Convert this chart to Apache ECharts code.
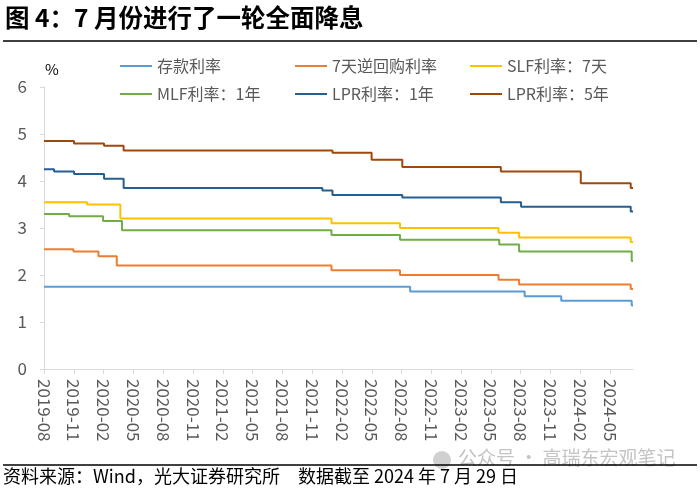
<!DOCTYPE html>
<html>
<head>
<meta charset="utf-8">
<script src="https://cdn.jsdelivr.net/npm/echarts@6/dist/echarts.min.js"></script>
<style>html,body{margin:0;padding:0;background:#fff}#c{width:700px;height:490px}</style>
</head>
<body>
<div id="c"></div>
<script>
// ---- data (change dates and rates, %) ----
const seriesNames = ['存款利率', '7天逆回购利率', 'SLF利率：7天', 'MLF利率：1年', 'LPR利率：1年', 'LPR利率：5年'];
const depositDates = ['2019-08-20','2022-09-15','2023-09-01','2023-12-22','2024-07-25','2024-07-29'];
const depositRates = [1.75, 1.65, 1.55, 1.45, 1.35, 1.35];
const repoDates = ['2019-08-20','2019-11-18','2020-02-03','2020-03-30','2022-01-17','2022-08-15','2023-06-13','2023-08-15','2024-07-22','2024-07-29'];
const repoRates = [2.55, 2.50, 2.40, 2.20, 2.10, 2.00, 1.90, 1.80, 1.70, 1.70];
const slfDates = ['2019-08-20','2019-12-30','2020-04-10','2022-01-17','2022-08-15','2023-06-13','2023-08-15','2024-07-22','2024-07-29'];
const slfRates = [3.55, 3.50, 3.20, 3.10, 3.00, 2.90, 2.80, 2.70, 2.70];
const mlfDates = ['2019-08-20','2019-11-05','2020-02-17','2020-04-15','2022-01-17','2022-08-15','2023-06-15','2023-08-15','2024-07-25','2024-07-29'];
const mlfRates = [3.30, 3.25, 3.15, 2.95, 2.85, 2.75, 2.65, 2.50, 2.30, 2.30];
const lpr1Dates = ['2019-08-20','2019-09-20','2019-11-20','2020-02-20','2020-04-20','2021-12-20','2022-01-20','2022-08-22','2023-06-20','2023-08-21','2024-07-22','2024-07-29'];
const lpr1Rates = [4.25, 4.20, 4.15, 4.05, 3.85, 3.80, 3.70, 3.65, 3.55, 3.45, 3.35, 3.35];
const lpr5Dates = ['2019-08-20','2019-11-20','2020-02-20','2020-04-20','2022-01-20','2022-05-20','2022-08-22','2023-06-20','2024-02-20','2024-07-22','2024-07-29'];
const lpr5Rates = [4.85, 4.80, 4.75, 4.65, 4.60, 4.45, 4.30, 4.20, 3.95, 3.85, 3.85];
const startDate = '2019-08-20';
const endDate = '2024-07-29';
const yTicks = [0, 1, 2, 3, 4, 5, 6];

// ---- helpers ----
const DAY = 86400000, MONTH_DAYS = 365.25 / 12;
const t0 = Date.parse(startDate + 'T00:00:00Z');
function toIdx(d) { return (Date.parse(d + 'T00:00:00Z') - t0) / DAY / MONTH_DAYS; }
function idxLabel(v) {
  if (Math.abs(v / 3 - Math.round(v / 3)) > 1e-6) return '';
  const dt = new Date(t0 + v * MONTH_DAYS * DAY);
  const m = dt.getUTCMonth() + 1;
  return dt.getUTCFullYear() + '-' + (m < 10 ? '0' + m : m);
}
function pts(dates, vals) { return dates.map((d, i) => [toIdx(d), vals[i]]); }

const colors = ['#5B9BD5', '#ED7D31', '#FFC000', '#70AD47', '#255E91', '#9E480E'];
const allData = [
  pts(depositDates, depositRates), pts(repoDates, repoRates), pts(slfDates, slfRates),
  pts(mlfDates, mlfRates), pts(lpr1Dates, lpr1Rates), pts(lpr5Dates, lpr5Rates)
];
const FONT = '"Noto Sans CJK SC", "Noto Sans", sans-serif';
const legendPos = [[120, 58], [295, 58], [470, 58], [120, 86], [295, 86], [470, 86]];

const chart = echarts.init(document.getElementById('c'), null, { renderer: 'canvas' });
chart.setOption({
  animation: false,
  textStyle: { fontFamily: FONT },
  color: colors,
  grid: { left: 44, right: 67, top: 87, bottom: 121 },
  legend: seriesNames.map((n, i) => ({
    data: [n], left: legendPos[i][0], top: legendPos[i][1], padding: 0,
    icon: 'rect', itemWidth: 32, itemHeight: 2, itemGap: 0,
    textStyle: { fontSize: 16, color: '#595959', fontFamily: FONT }
  })),
  xAxis: {
    type: 'value', min: 0, max: toIdx(endDate), interval: 3,
    axisLine: { show: true, lineStyle: { color: '#d9d9d9', width: 1 } },
    axisTick: { show: true, length: 5, lineStyle: { color: '#d9d9d9' } },
    splitLine: { show: false },
    axisLabel: { rotate: -90, margin: 10, fontSize: 17, color: '#595959', fontFamily: FONT, formatter: idxLabel, showMaxLabel: false }
  },
  yAxis: {
    type: 'value', min: yTicks[0], max: yTicks[yTicks.length - 1], interval: 1,
    axisLine: { show: true, lineStyle: { color: '#d9d9d9', width: 1 } },
    axisTick: { show: true, length: 4, lineStyle: { color: '#d9d9d9' } },
    splitLine: { show: false },
    axisLabel: { margin: 17, fontSize: 17, color: '#595959', fontFamily: FONT }
  },
  series: seriesNames.map((n, i) => ({
    name: n, type: 'line', step: 'end', symbol: 'none', data: allData[i],
    lineStyle: { width: 2, color: colors[i] }, itemStyle: { color: colors[i] }
  })),
  graphic: [
    { type: 'text', left: 5, top: 5, style: { text: '图 4：7 月份进行了一轮全面降息', font: 'bold 24.5px ' + FONT, fill: '#000' } },
    { type: 'line', shape: { x1: 3, y1: 41, x2: 697, y2: 41 }, style: { stroke: '#000', lineWidth: 1.5 } },
    { type: 'text', left: 45, top: 62, style: { text: '%', font: '15px ' + FONT, fill: '#000' } },
    { type: 'circle', shape: { cx: 442, cy: 460, r: 9 }, style: { fill: '#d0d0d0' } },
    { type: 'text', left: 458, top: 448, style: { text: '公众号 · 高瑞东宏观笔记', font: '19px ' + FONT, fill: '#c4c4c4' } },
    { type: 'line', shape: { x1: 3, y1: 465, x2: 697, y2: 465 }, style: { stroke: '#000', lineWidth: 1.5 } },
    { type: 'text', left: 3, top: 467, style: { text: '资料来源：Wind，光大证券研究所　数据截至 2024 年 7 月 29 日', font: '18px ' + FONT, fill: '#000' } }
  ]
});
</script>
</body>
</html>
